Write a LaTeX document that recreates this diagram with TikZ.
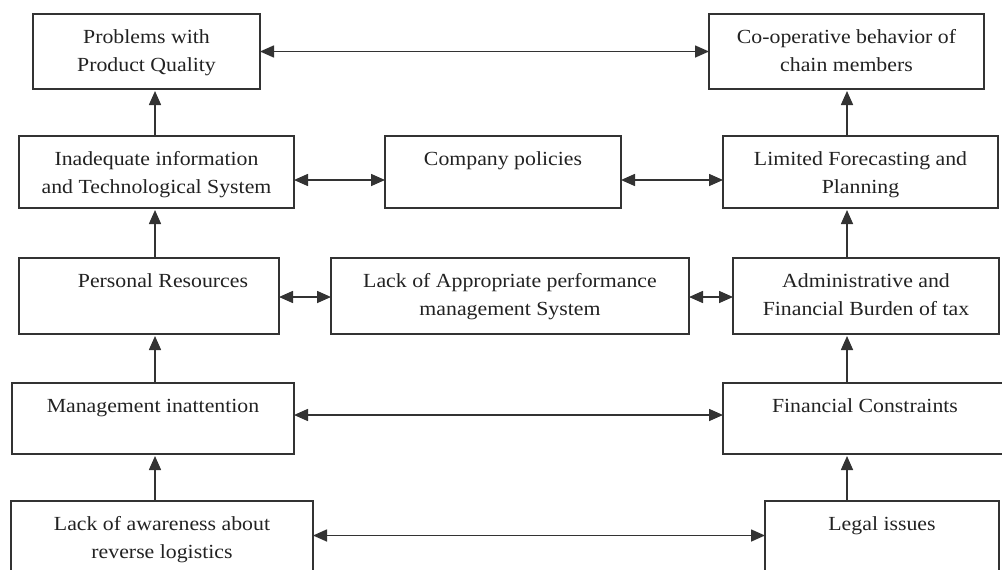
\documentclass[tikz,border=0pt]{standalone}
\usepackage{fontspec}
\setmainfont[FakeStretch=1.09]{Liberation Serif}
\usetikzlibrary{arrows.meta}
\definecolor{linec}{HTML}{333333}
\definecolor{txtc}{HTML}{222222}
\newcommand{\bxt}[3]{\parbox[t][#2][t]{#1}{\centering\fontsize{20}{28}\selectfont\rule{0pt}{29pt}#3\par}}
\begin{document}
\begin{tikzpicture}[x=1pt,y=-1pt,
  box/.style={draw=linec, line width=1.6pt, inner sep=0pt, outer sep=0pt, anchor=north west, text=txtc},
  both/.style={draw=linec, line width=1.6pt, {Triangle[length=14pt,width=12pt]}-{Triangle[length=14pt,width=12pt]}},
  up/.style={draw=linec, line width=1.6pt, -{Triangle[length=14pt,width=12pt]}, shorten >=2pt}]
\useasboundingbox (0,0) rectangle (1002,570);
\coordinate (colL) at (155,0);
\coordinate (colR) at (847,0);
% row 1
\node[box] (prob) at (33,14) {\bxt{227pt}{75pt}{Problems with\\Product Quality}};
\node[box] (coop) at (709,14) {\bxt{275pt}{75pt}{Co-operative behavior of\\chain members}};
% row 2
\node[box] (inf) at (19,136) {\bxt{275pt}{72pt}{Inadequate information\\and Technological System}};
\node[box] (comp) at (385,136) {\bxt{236pt}{72pt}{Company policies}};
\node[box] (lim) at (723,136) {\bxt{275pt}{72pt}{Limited Forecasting and\\Planning}};
% row 3
\node[box] (pers) at (19,258) {\bxt{260pt}{76pt}{\hspace*{28pt}Personal Resources}};
\node[box] (perf) at (331,258) {\bxt{358pt}{76pt}{Lack of Appropriate performance\\management System}};
\node[box] (adm) at (733,258) {\bxt{266pt}{76pt}{Administrative and\\Financial Burden of tax}};
% row 4
\node[box] (mgmt) at (12,383) {\bxt{282pt}{71pt}{Management inattention}};
\node[box] (fin) at (723,383) {\bxt{284pt}{71pt}{Financial Constraints}};
% row 5
\node[box] (lack) at (11,501) {\bxt{302pt}{80pt}{Lack of awareness about\\reverse logistics}};
\node[box] (legal) at (765,501) {\bxt{234pt}{80pt}{Legal issues}};
% horizontal connectors
\draw[both] (prob.east) -- (coop.west);
\draw[both] ([yshift=-8pt]inf.east) -- ([yshift=-8pt]comp.west);
\draw[both] ([yshift=-8pt]comp.east) -- ([yshift=-8pt]lim.west);
\draw[both] ([yshift=-1pt]pers.east) -- ([yshift=-1pt]perf.west);
\draw[both] ([yshift=-1pt]perf.east) -- ([yshift=-1pt]adm.west);
\draw[both] ([yshift=3.5pt]mgmt.east) -- ([yshift=3.5pt]fin.west);
\draw[both] ([yshift=5.5pt]lack.east) -- ([yshift=5.5pt]legal.west);
% vertical connectors
\draw[up] (inf.north -| colL) -- (prob.south -| colL);
\draw[up] (pers.north -| colL) -- (inf.south -| colL);
\draw[up] (mgmt.north -| colL) -- (pers.south -| colL);
\draw[up] (lack.north -| colL) -- (mgmt.south -| colL);
\draw[up] (lim.north -| colR) -- (coop.south -| colR);
\draw[up] (adm.north -| colR) -- (lim.south -| colR);
\draw[up] (fin.north -| colR) -- (adm.south -| colR);
\draw[up] (legal.north -| colR) -- (fin.south -| colR);
\end{tikzpicture}
\end{document}
